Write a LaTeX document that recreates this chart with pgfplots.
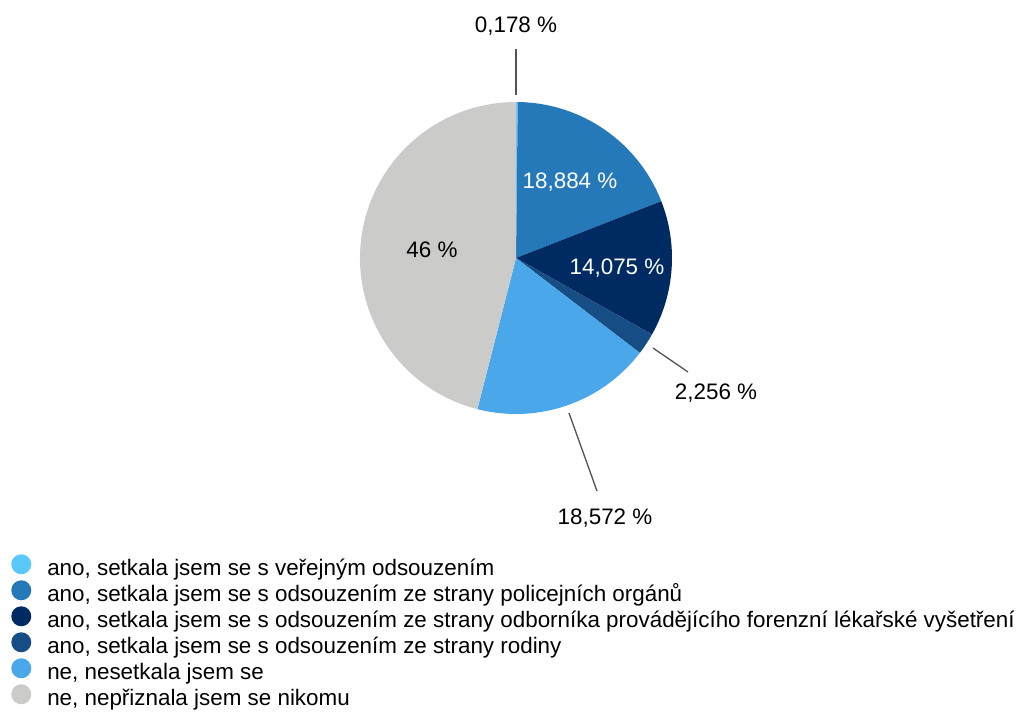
\documentclass[border=0pt]{standalone}
\usepackage{pgfplots}
\pgfplotsset{compat=1.18}
\usepackage{pgfplotstable}
\usepackage{fontspec}
\setmainfont{Liberation Sans}
\definecolor{c1}{HTML}{5AC8FA}
\definecolor{c2}{HTML}{2579B8}
\definecolor{c3}{HTML}{002B62}
\definecolor{c4}{HTML}{174D85}
\definecolor{c5}{HTML}{4AA7E9}
\definecolor{c6}{HTML}{CBCCCA}
\definecolor{leader}{HTML}{555555}

\pgfplotstableread{
value
0.178
18.884
14.075
2.256
18.572
46
}\piedata

% cumulative angles (clockwise from 12 o'clock)
\def\pietotal{0}
\pgfplotsforeachungrouped \i in {0,...,5}{%
  \pgfplotstablegetelem{\i}{value}\of\piedata
  \pgfmathsetmacro\pietotal{\pietotal+\pgfplotsretval}%
  \global\let\pietotal\pietotal
}
\def\piecum{0}
\pgfplotsforeachungrouped \i in {0,...,5}{%
  \pgfplotstablegetelem{\i}{value}\of\piedata
  \pgfmathsetmacro\pa{90-360*(\piecum/\pietotal)}%
  \pgfmathsetmacro\piecum{\piecum+\pgfplotsretval}%
  \global\let\piecum\piecum
  \pgfmathsetmacro\pb{90-360*(\piecum/\pietotal)}%
  \expandafter\global\expandafter\let\csname sa\i\endcsname\pa
  \expandafter\global\expandafter\let\csname sb\i\endcsname\pb
}
\newcommand\slice[2]{%
  \fill[#2] (axis cs:516,258) -- ++(\csname sa#1\endcsname:117pt)
    arc[start angle=\csname sa#1\endcsname, end angle=\csname sb#1\endcsname, radius=117pt] -- cycle;}
\newcommand\lblfont{\fontsize{16.8}{19.5}\selectfont}

\begin{document}
\begin{tikzpicture}
\begin{axis}[
  scale only axis, width=768pt, height=533.25pt,
  xmin=0, xmax=1024, ymin=0, ymax=711, y dir=reverse,
  hide axis, clip=false,
  font=\lblfont,
  legend cell align=left,
  legend image code/.code={\path[draw=none,fill=none] (0pt,0pt) -- (15pt,0pt);
    \fill[#1,draw=none,overlay] (7.5pt,3pt) circle[radius=7.5pt];},
  legend style={draw=none, fill=none, at={(axis cs:11,555)}, anchor=north west,
    font=\lblfont, row sep=0pt, inner sep=0pt,
    nodes={inner sep=0pt, text height=15.5pt, text depth=4pt},
    /tikz/every odd column/.append style={column sep=12pt}},
]
\path (rel axis cs:0,0) rectangle (rel axis cs:1,1);
\slice{0}{c1}
\slice{1}{c2}
\slice{2}{c3}
\slice{3}{c4}
\slice{4}{c5}
\slice{5}{c6}

\draw[leader, line width=1pt] (axis cs:516,49) -- (axis cs:516,95);
\draw[leader, line width=1pt] (axis cs:653,348) -- (axis cs:688,372);
\draw[leader, line width=1pt] (axis cs:569,413) -- (axis cs:597,491);

\node at (axis cs:516,26) {0,178 \%};
\node[white] at (axis cs:570,182) {18,884 \%};
\node[white] at (axis cs:617,268) {14,075 \%};
\node at (axis cs:716,393) {2,256 \%};
\node at (axis cs:605,518) {18,572 \%};
\node at (axis cs:432,250) {46 \%};

\addlegendimage{c1}
\addlegendentry{ano, setkala jsem se s veřejným odsouzením}
\addlegendimage{c2}
\addlegendentry{ano, setkala jsem se s odsouzením ze strany policejních orgánů}
\addlegendimage{c3}
\addlegendentry{ano, setkala jsem se s odsouzením ze strany odborníka provádějícího forenzní lékařské vyšetření}
\addlegendimage{c4}
\addlegendentry{ano, setkala jsem se s odsouzením ze strany rodiny}
\addlegendimage{c5}
\addlegendentry{ne, nesetkala jsem se}
\addlegendimage{c6}
\addlegendentry{ne, nepřiznala jsem se nikomu}
\end{axis}
\end{tikzpicture}
\end{document}
